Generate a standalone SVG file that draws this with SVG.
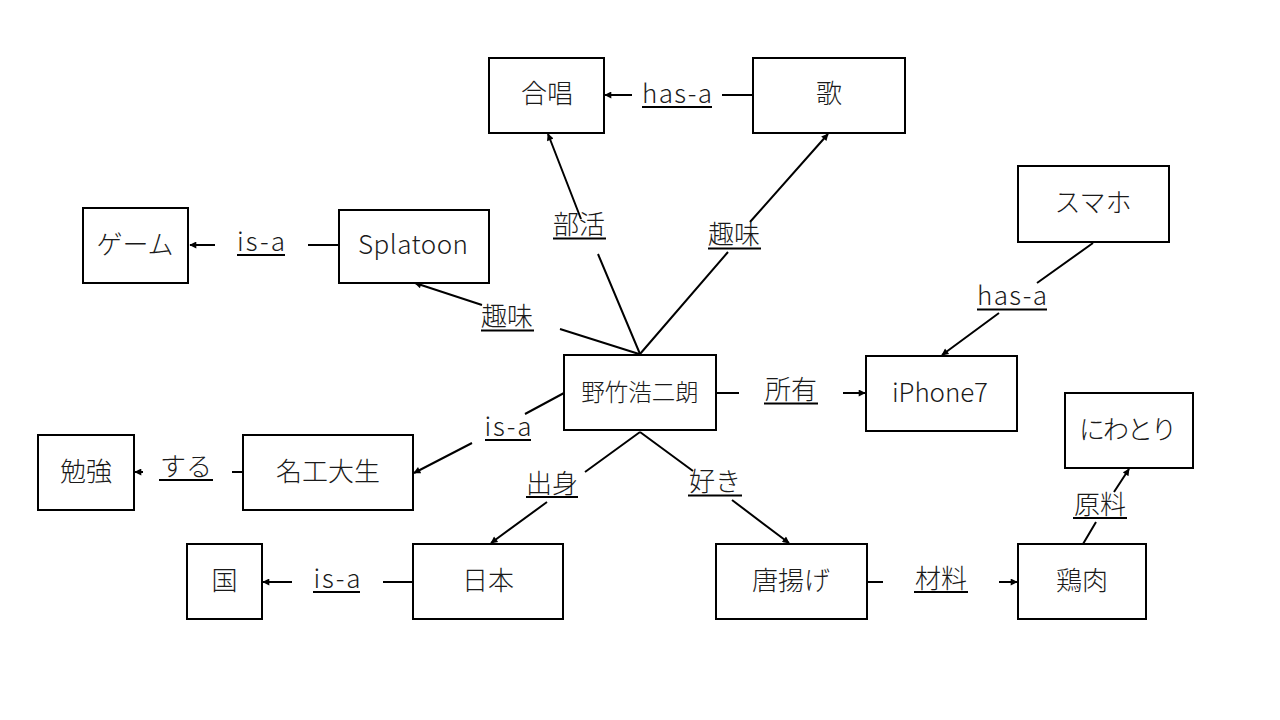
<svg xmlns="http://www.w3.org/2000/svg" width="1280" height="720" viewBox="0 0 1280 720">
<defs>
<marker id="arr" viewBox="0 0 10 10" refX="9" refY="5" markerWidth="9" markerHeight="7" markerUnits="userSpaceOnUse" orient="auto">
<path d="M0,0 L10,5 L0,10 z" fill="#000"/>
</marker>
<style>
.box{fill:#fff;stroke:#000;stroke-width:2}
.t{font-family:"Noto Sans CJK JP","Noto Sans",sans-serif;font-size:26px;font-weight:300;fill:#1a1a1a;text-anchor:middle}
.c{fill:none;stroke:#000;stroke-width:2;marker-end:url(#arr)}
.u{stroke:#000;stroke-width:2}
</style>
</defs>
<rect width="1280" height="720" fill="#fff"/>
<g id="connectors">
<path class="c" d="M753,95 L722,95 M632,95 L605,95"/>
<path class="c" d="M339,245 L308,245 M215,245 L190,245"/>
<path class="c" d="M640,354 L598,254 M581,219 L548,134"/>
<path class="c" d="M640,354 L728,252 M750,222 L828,134"/>
<path class="c" d="M639,354 L560,329 M482,305 L415,283"/>
<path class="c" d="M716,393 L739,393 M843,393 L865,393"/>
<path class="c" d="M564,393 L525,414 M472,443 L414,473"/>
<path class="c" d="M640,432 L585,472 M547,502 L491,543"/>
<path class="c" d="M640,432 L693,471 M732,500 L789,543"/>
<path class="c" d="M1093,243 L1037,283 M999,313 L942,355"/>
<path class="c" d="M243,472 L232,472 M143,472 L135,472"/>
<path class="c" d="M413,582 L383,582 M292,582 L263,582"/>
<path class="c" d="M867,582 L883,582 M999,582 L1017,582"/>
<path class="c" d="M1083,544 L1096,522 M1114,492 L1129,469"/>
</g>
<g id="labels">
<text class="t" x="677" y="103" textLength="70">has-a</text><line class="u" x1="642" y1="107" x2="712" y2="107"/>
<text class="t" x="261" y="251" textLength="48">is-a</text><line class="u" x1="237" y1="255" x2="285" y2="255"/>
<text class="t" x="579" y="234">部活</text><line class="u" x1="553" y1="238.5" x2="606" y2="238.5"/>
<text class="t" x="734" y="244">趣味</text><line class="u" x1="708" y1="248.5" x2="761" y2="248.5"/>
<text class="t" x="507" y="326">趣味</text><line class="u" x1="481" y1="330.5" x2="534" y2="330.5"/>
<text class="t" x="791" y="399">所有</text><line class="u" x1="764" y1="403.5" x2="818" y2="403.5"/>
<text class="t" x="508" y="436" textLength="47">is-a</text><line class="u" x1="485" y1="440" x2="531" y2="440"/>
<text class="t" x="552" y="493">出身</text><line class="u" x1="526" y1="497" x2="578" y2="497"/>
<text class="t" x="715" y="491">好き</text><line class="u" x1="688" y1="495.5" x2="742" y2="495.5"/>
<text class="t" x="1012" y="305" textLength="70">has-a</text><line class="u" x1="977" y1="309.5" x2="1047" y2="309.5"/>
<text class="t" x="186" y="476">する</text><line class="u" x1="159" y1="480" x2="213" y2="480"/>
<text class="t" x="337" y="588" textLength="47">is-a</text><line class="u" x1="313" y1="592" x2="360" y2="592"/>
<text class="t" x="941" y="588">材料</text><line class="u" x1="914" y1="592" x2="968" y2="592"/>
<text class="t" x="1100" y="514">原料</text><line class="u" x1="1073" y1="518" x2="1127" y2="518"/>
</g>
<g id="n-gassho"><rect class="box" x="489" y="58" width="115" height="75"/><text class="t" x="547" y="103">合唱</text></g>
<g id="n-uta"><rect class="box" x="753" y="58" width="152" height="75"/><text class="t" x="829" y="103">歌</text></g>
<g id="n-game"><rect class="box" x="83" y="208" width="105" height="75"/><text class="t" x="135" y="254">ゲーム</text></g>
<g id="n-splatoon"><rect class="box" x="339" y="210" width="150" height="73"/><text class="t" x="413" y="254" textLength="110">Splatoon</text></g>
<g id="n-sumaho"><rect class="box" x="1018" y="166" width="151" height="76"/><text class="t" x="1093" y="212">スマホ</text></g>
<g id="n-center"><rect class="box" x="564" y="355" width="152" height="75"/><text class="t" x="640" y="401" style="font-size:23.5px">野竹浩二朗</text></g>
<g id="n-iphone"><rect class="box" x="866" y="356" width="151" height="75"/><text class="t" x="940" y="402" textLength="96">iPhone7</text></g>
<g id="n-niwatori"><rect class="box" x="1065" y="393" width="128" height="75"/><text class="t" x="1128" y="439" textLength="98">にわとり</text></g>
<g id="n-benkyo"><rect class="box" x="38" y="435" width="96" height="75"/><text class="t" x="86" y="481">勉強</text></g>
<g id="n-meikoudai"><rect class="box" x="243" y="435" width="170" height="75"/><text class="t" x="328" y="481">名工大生</text></g>
<g id="n-kuni"><rect class="box" x="187" y="544" width="75" height="75"/><text class="t" x="224.5" y="590">国</text></g>
<g id="n-nihon"><rect class="box" x="413" y="544" width="150" height="75"/><text class="t" x="488" y="590">日本</text></g>
<g id="n-karaage"><rect class="box" x="716" y="544" width="151" height="75"/><text class="t" x="791" y="590">唐揚げ</text></g>
<g id="n-toriniku"><rect class="box" x="1018" y="544" width="128" height="75"/><text class="t" x="1082" y="590">鶏肉</text></g>
</svg>
